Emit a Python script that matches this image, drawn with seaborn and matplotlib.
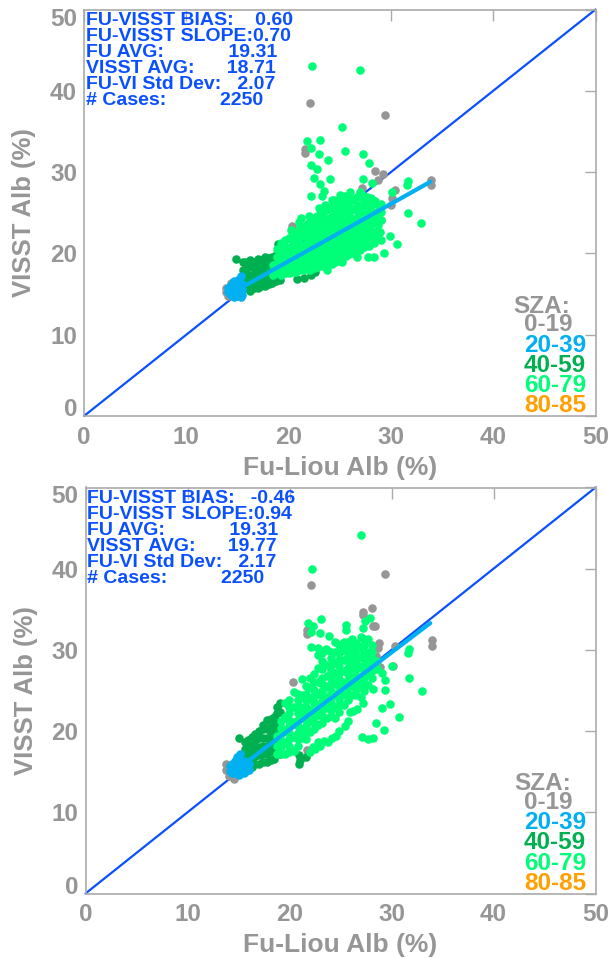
import matplotlib
matplotlib.use("Agg")
import matplotlib.pyplot as plt
from matplotlib.transforms import ScaledTranslation
import seaborn as sns

# =============================================
# DATA
# =============================================
SZA_LABELS = ['0-19', '20-39', '40-59', '60-79', '80-85']
SZA_COLORS = ['#969696', '#00b0f0', '#00b050', '#00ff78', '#ffa000']
TICKS = [0, 10, 20, 30, 40, 50]
DIAG = [0, 50]

# top panel
top_stats = ['FU-VISST BIAS:    0.60', 'FU-VISST SLOPE:0.70', 'FU AVG:            19.31',
             'VISST AVG:      18.71', 'FU-VI Std Dev:   2.07', '# Cases:          2250']
top_fit_x = [15.7, 33.85]
top_fit_y = [16.0, 28.8]
top_gray_x = [22.1, 29.4, 21.65, 21.65, 28.4, 29.2, 28.7, 27.2, 30.4, 30.1, 30.0, 27.75, 29.0, 20.3, 33.9, 33.9,
              13.9, 13.9, 14.1, 14.4]
top_gray_y = [38.5, 37.0, 32.9, 32.4, 30.1, 29.8, 29.0, 28.1, 27.8, 26.8, 26.0, 26.7, 24.1, 23.4, 29.0, 28.4,
              15.2, 15.8, 14.7, 16.3]
top_blue_x = [14.4, 14.4, 14.4, 15.0, 15.0, 15.0, 15.4, 15.4, 15.4, 14.7, 15.2, 15.3,
              14.1, 14.1, 14.7, 14.7, 14.7, 15.3, 15.3, 14.9]
top_blue_y = [14.9, 15.5, 16.1, 14.8, 15.4, 16.0, 14.9, 15.5, 16.2, 16.6, 16.9, 17.2,
              15.2, 15.8, 14.6, 15.2, 15.8, 14.6, 15.8, 16.4]
top_dark_x = [14.9, 15.5, 15.5, 15.5, 15.5, 16.2, 16.2, 16.2, 16.2, 16.2, 17.0, 17.0, 17.0, 17.0, 17.0,
              17.7, 17.7, 17.7, 17.7, 17.7, 18.4, 18.4, 18.4, 18.4, 18.95, 19.2, 20.8, 21.5, 22.2, 22.6]
top_dark_y = [19.3, 15.6, 16.8, 18.0, 19.0, 15.4, 16.4, 17.4, 18.4, 19.2, 15.7, 16.7, 17.7, 18.7, 19.3,
              16.0, 17.0, 18.0, 19.0, 19.5, 16.4, 17.4, 18.4, 19.6, 21.1, 16.7, 16.9, 17.0, 17.4, 17.7]
top_dark_cols = [15.85, 16.6, 17.35, 18.05, 18.8]
top_dark_vals = [[15.7, 16.5, 17.3, 18.1, 18.9], [15.8, 16.6, 17.4, 18.2, 19.0], [16.0, 16.8, 17.6, 18.4, 19.2],
                 [16.2, 17.0, 17.8, 18.6, 19.4], [16.6, 17.4, 18.2, 19.0, 19.8]]
top_green_x = [22.24, 27.0, 25.2, 21.8, 23.1, 22.2, 25.5, 27.3, 22.96, 23.9, 27.9, 22.15, 22.8, 22.5, 24.0, 27.3,
               28.15, 23.1, 23.5, 22.15, 23.3, 31.7, 31.6, 30.1, 27.0, 31.7, 32.95, 30.6, 29.3, 29.9, 29.05, 28.3,
               27.8, 28.35, 21.2, 25.4, 24.2, 23.6,
               18.5, 18.5, 19.3, 19.3, 19.3, 19.3, 19.3, 20.0, 20.0, 20.0, 20.0, 20.0,
               20.7, 20.7, 20.7, 20.7, 20.7, 20.7, 21.4, 21.4, 21.4, 21.4, 21.4, 21.4,
               22.1, 22.1, 22.1, 22.1, 22.1, 22.1, 22.1, 22.8, 22.8, 22.8, 22.8, 22.8, 22.8, 22.8,
               23.5, 23.5, 23.5, 23.5, 23.5, 23.5, 23.5, 23.5, 24.2, 24.2, 24.2, 24.2, 24.2, 24.2, 24.2, 24.2,
               24.9, 24.9, 24.9, 24.9, 24.9, 24.9, 24.9, 24.9, 25.6, 25.6, 25.6, 25.6, 25.6, 25.6, 25.6,
               26.3, 26.3, 26.3, 26.3, 26.3, 26.3, 26.3, 27.0, 27.0, 27.0, 27.0, 27.0, 27.0, 27.0,
               27.7, 27.7, 27.7, 27.7, 27.7, 27.7, 28.4, 28.4, 28.4, 28.4, 29.0, 29.0, 29.0,
               28.9, 28.5, 27.9, 26.7, 25.2, 23.8, 20.2, 21.0, 22.0, 23.0, 24.4, 25.0, 26.0]
top_green_y = [43.1, 42.6, 35.5, 33.8, 33.9, 33.0, 32.6, 32.2, 32.2, 31.5, 31.1, 30.9, 30.4, 29.3, 29.1, 29.1,
               28.6, 28.5, 27.7, 27.0, 27.1, 28.9, 28.4, 27.5, 27.5, 25.0, 23.7, 21.1, 20.0, 22.2, 21.7, 21.3,
               19.5, 19.5, 24.3, 27.0, 26.6, 26.0,
               17.4, 18.6, 17.3, 18.2, 19.1, 20.1, 21.3, 17.6, 18.6, 19.6, 20.7, 21.9,
               17.7, 18.6, 19.6, 20.6, 21.6, 22.6, 17.9, 18.9, 19.9, 21.0, 22.1, 23.2,
               18.0, 18.9, 19.9, 20.9, 21.9, 22.9, 23.9, 18.3, 19.3, 20.3, 21.3, 22.3, 23.4, 24.6,
               18.5, 19.3, 20.2, 21.1, 22.0, 23.0, 24.0, 25.1, 18.7, 19.6, 20.6, 21.6, 22.6, 23.6, 24.6, 25.7,
               19.1, 20.0, 21.0, 22.0, 23.0, 24.0, 25.0, 26.1, 19.7, 20.7, 21.8, 22.9, 24.0, 25.1, 26.4,
               20.1, 21.1, 22.1, 23.1, 24.2, 25.4, 26.7, 20.4, 21.4, 22.4, 23.4, 24.5, 25.7, 26.9,
               21.1, 22.2, 23.3, 24.4, 25.6, 26.9, 22.6, 23.7, 25.0, 26.4, 24.1, 25.1, 26.1,
               22.6, 21.9, 20.9, 19.6, 18.9, 17.9, 22.9, 23.9, 24.6, 25.6, 26.6, 27.2, 27.5]
# the dense part of the cloud, one x with its y values per column
top_green_cols = [18.9, 19.65, 20.35, 21.05, 21.75, 22.45, 23.15, 23.85, 24.55, 25.25, 25.95, 26.65, 27.35, 28.05, 28.7]
top_green_vals = [[17.8, 18.7, 19.6, 20.5],
                  [17.6, 18.4, 19.2, 20.0, 20.8, 21.6],
                  [17.7, 18.5, 19.3, 20.1, 20.9, 21.7, 22.3],
                  [17.9, 18.7, 19.5, 20.3, 21.1, 21.9, 22.6, 23.0],
                  [18.1, 18.9, 19.7, 20.5, 21.3, 22.1, 22.9, 23.6],
                  [18.2, 19.0, 19.8, 20.6, 21.4, 22.2, 23.0, 23.8, 24.4],
                  [18.4, 19.2, 20.0, 20.8, 21.6, 22.4, 23.2, 24.0, 24.9],
                  [18.6, 19.4, 20.2, 21.0, 21.8, 22.6, 23.4, 24.2, 25.4],
                  [19.0, 19.8, 20.6, 21.4, 22.2, 23.0, 23.8, 24.6, 25.4, 26.0],
                  [19.3, 20.1, 20.9, 21.7, 22.5, 23.3, 24.1, 24.9, 25.7, 26.4],
                  [19.9, 20.7, 21.5, 22.3, 23.1, 23.9, 24.7, 25.5, 26.3, 26.7],
                  [20.4, 21.2, 22.0, 22.8, 23.6, 24.4, 25.2, 26.0, 26.9],
                  [20.8, 21.6, 22.4, 23.2, 24.0, 24.8, 25.6, 26.4, 27.0],
                  [22.0, 22.8, 23.6, 24.4, 25.2, 26.0, 26.8],
                  [23.5, 24.3, 25.1, 25.9]]

# bottom panel
bot_stats = ['FU-VISST BIAS:   -0.46', 'FU-VISST SLOPE:0.94', 'FU AVG:            19.31',
             'VISST AVG:      19.77', 'FU-VI Std Dev:   2.17', '# Cases:          2250']
bot_fit_x = [15.6, 33.8]
bot_fit_y = [16.0, 33.3]
bot_gray_x = [22.1, 29.4, 28.05, 27.25, 27.25, 21.7, 21.7, 28.2, 28.4, 28.8, 28.7, 30.3, 27.7, 28.5, 28.9, 30.1,
              20.3, 34.0, 34.0, 21.7, 13.8, 13.8, 14.1, 14.6]
bot_gray_y = [38.0, 39.3, 35.15, 34.7, 34.3, 32.45, 32.0, 32.9, 32.9, 30.8, 30.2, 30.5, 29.2, 29.2, 27.9, 28.0,
              26.0, 31.2, 30.5, 17.7, 15.2, 15.9, 14.5, 14.1]
bot_blue_x = [14.4, 14.4, 14.4, 15.0, 15.0, 15.0, 15.5, 15.5, 15.5, 16.0, 16.0, 14.9, 15.1,
              14.2, 14.2, 14.7, 14.7, 14.7, 15.25, 15.25, 15.75, 15.75]
bot_blue_y = [14.8, 15.4, 16.0, 14.6, 15.3, 16.1, 14.9, 15.5, 16.3, 15.2, 15.9, 16.8, 17.2,
              15.1, 15.7, 14.9, 15.6, 16.3, 15.0, 15.9, 15.1, 16.2]
bot_dark_x = [15.0, 15.6, 15.6, 15.6, 15.6, 16.3, 16.3, 16.3, 16.3, 16.3, 17.0, 17.0, 17.0, 17.0, 17.0,
              17.8, 17.8, 17.8, 17.8, 17.8, 17.8, 18.5, 18.5, 18.5, 18.5, 18.5, 18.5, 19.1, 19.1, 19.1, 19.1,
              20.9, 20.9, 21.6, 21.0]
bot_dark_y = [19.1, 15.8, 16.8, 17.8, 18.7, 15.6, 16.6, 17.6, 18.6, 19.3, 15.9, 17.0, 18.1, 19.2, 20.0,
              16.2, 17.2, 18.2, 19.2, 20.3, 21.4, 16.6, 17.6, 18.7, 19.7, 20.7, 21.7, 17.2, 20.5, 22.3, 23.4,
              16.0, 17.1, 16.8, 16.5]
bot_dark_cols = [15.95, 16.65, 17.4, 18.15, 18.8]
bot_dark_vals = [[16.0, 17.0, 18.0, 18.9], [15.9, 16.9, 17.9, 18.9, 19.6], [16.2, 17.2, 18.2, 19.2, 20.2, 20.8],
                 [16.5, 17.5, 18.5, 19.5, 20.5, 21.5], [17.2, 18.2, 19.2, 20.2, 21.2, 22.2, 23.0]]
bot_green_x = [27.05, 22.25, 23.1, 21.85, 22.35, 22.15, 23.0, 23.9, 25.55, 25.55, 27.4, 27.9, 27.2, 22.1, 22.8, 23.6,
               31.75, 31.65, 30.05, 31.75, 33.0, 29.35, 29.85, 29.1, 30.7, 28.45, 29.3, 28.2, 27.7, 27.15,
               18.75, 18.75, 18.75, 19.55, 19.55, 19.55, 19.55, 19.55, 20.4, 20.4, 20.4, 20.4, 20.4,
               21.2, 21.2, 21.2, 21.2, 21.2, 21.2, 22.0, 22.0, 22.0, 22.0, 22.0, 22.0,
               22.8, 22.8, 22.8, 22.8, 22.8, 22.8, 22.8, 23.65, 23.65, 23.65, 23.65, 23.65, 23.65, 23.65,
               24.45, 24.45, 24.45, 24.45, 24.45, 24.45, 24.45, 24.45, 25.3, 25.3, 25.3, 25.3, 25.3, 25.3, 25.3,
               26.1, 26.1, 26.1, 26.1, 26.1, 26.1, 26.1, 26.1, 27.0, 27.0, 27.0, 27.0, 27.0, 27.0, 27.0,
               27.7, 27.7, 27.7, 27.7, 27.7, 28.55, 28.55, 22.0, 22.5, 23.0, 23.8, 24.6, 25.45, 25.9, 26.6, 27.2,
               28.2, 29.35, 29.1, 22.3, 22.8, 23.4, 24.2, 24.9, 25.7, 26.2]
bot_green_y = [44.2, 40.0, 33.85, 33.35, 32.9, 32.25, 32.1, 31.75, 33.1, 32.5, 33.5, 33.9, 32.65, 30.4, 30.2, 30.1,
               30.1, 29.6, 28.05, 26.5, 25.0, 25.1, 23.3, 22.9, 21.7, 21.0, 20.1, 19.1, 19.0, 19.3,
               17.2, 18.2, 19.4, 17.2, 18.6, 20.1, 21.7, 23.4, 17.5, 19.3, 21.1, 23.0, 24.8,
               19.1, 20.3, 21.6, 23.0, 24.5, 26.4, 19.9, 21.2, 22.6, 24.0, 25.4, 26.5,
               20.7, 22.0, 23.3, 24.6, 26.0, 27.8, 29.4, 21.6, 22.9, 24.2, 25.5, 26.8, 28.2, 30.0,
               21.6, 23.0, 24.4, 25.8, 27.2, 28.4, 29.8, 31.0, 23.2, 24.6, 26.0, 27.4, 28.7, 30.0, 31.0,
               24.4, 25.5, 26.6, 27.6, 28.6, 29.6, 30.5, 31.4, 24.2, 25.5, 26.7, 27.9, 29.1, 30.3, 31.6,
               25.7, 27.1, 28.4, 29.8, 31.4, 27.7, 28.6, 17.4, 17.8, 18.2, 18.6, 19.4, 20.6, 22.3, 22.7, 23.5,
               25.2, 26.3, 27.2, 18.0, 18.6, 18.8, 19.2, 20.0, 21.3, 22.5]
bot_green_cols = [19.15, 19.95, 20.8, 21.6, 22.4, 23.2, 24.05, 24.9, 25.7, 26.55, 27.35, 28.1]
bot_green_vals = [[17.2, 18.0, 18.8, 19.6, 20.4, 21.2],
                  [17.4, 18.2, 19.0, 19.8, 20.6, 21.4, 22.2, 23.0, 23.8],
                  [18.2, 19.0, 19.8, 20.6, 21.4, 22.2, 23.0, 23.8, 24.6],
                  [19.0, 19.8, 20.6, 21.4, 22.2, 23.0, 23.8, 24.6, 25.6],
                  [20.3, 21.1, 21.9, 22.7, 23.5, 24.3, 25.1, 26.0, 27.0],
                  [21.0, 21.8, 22.6, 23.4, 24.2, 25.0, 25.8, 26.6, 27.6, 28.6, 29.6],
                  [21.8, 22.6, 23.4, 24.2, 25.0, 25.8, 26.6, 27.4, 28.2, 29.0, 29.8],
                  [22.4, 23.2, 24.0, 24.8, 25.6, 26.4, 27.2, 28.0, 28.8, 29.6, 30.6],
                  [23.8, 24.6, 25.4, 26.2, 27.0, 27.8, 28.6, 29.4, 30.2, 31.0],
                  [24.4, 25.2, 26.0, 26.8, 27.6, 28.4, 29.2, 30.0, 30.8],
                  [25.0, 25.8, 26.6, 27.4, 28.2, 29.0, 29.8, 30.6, 31.4],
                  [26.6, 27.4, 28.2, 29.0, 29.8, 30.6]]


# =============================================
# HELPERS
# =============================================
def add_columns(xs, ys, cols, vals):
    out_x = list(xs)
    out_y = list(ys)
    for c, v in zip(cols, vals):
        out_x += [c] * len(v)
        out_y += v
    return out_x, out_y


def draw_panel(ax, stats, fit_x, fit_y, gray, blue, dark, green):
    sns.lineplot(x=DIAG, y=DIAG, color='#0a50ff', linewidth=1.6, ax=ax, zorder=2, clip_on=False)
    for (px, py), color, z in zip([gray, dark, green, blue],
                                  [SZA_COLORS[0], SZA_COLORS[2], SZA_COLORS[3], SZA_COLORS[1]],
                                  [3, 4, 5, 6]):
        sns.scatterplot(x=px, y=py, color=color, s=38, linewidth=0, ax=ax, zorder=z)
    sns.lineplot(x=fit_x, y=fit_y, color=SZA_COLORS[1], linewidth=3.0, ax=ax, zorder=7)

    ax.set_xlim(0, 50)
    ax.set_ylim(0, 50)
    ax.set_xticks(TICKS)
    ax.set_yticks(TICKS)
    ax.tick_params(direction='in', length=8, width=1.0, color='#aaaaaa', labelcolor='#969696',
                   labelsize=17.5, top=True, right=True)
    ax.tick_params(axis='x', pad=7)
    ax.tick_params(axis='y', pad=5)
    # first and last y labels sit inside the axis range
    ylabs = ax.get_yticklabels()
    fig = ax.figure
    ylabs[0].set_transform(ylabs[0].get_transform() + ScaledTranslation(0, 9 / 100, fig.dpi_scale_trans))
    ylabs[-1].set_transform(ylabs[-1].get_transform() + ScaledTranslation(0, -7 / 100, fig.dpi_scale_trans))
    ax.set_xlabel('Fu-Liou Alb (%)', fontsize=19, color='#969696', fontweight='bold')
    ax.set_ylabel('VISST Alb (%)', fontsize=18.5, color='#969696', fontweight='bold')
    ax.xaxis.set_label_coords(0.5, -0.098)
    ax.yaxis.set_label_coords(-0.093, 0.5)
    for s in ax.spines.values():
        s.set_color('#aaaaaa')
        s.set_linewidth(1.2)
        s.set_visible(True)

    # stats block
    for i, line in enumerate(stats):
        ax.text(0.003, 0.974 - i * 0.0398, line, transform=ax.transAxes, color='#0a50ff',
                fontsize=14, fontweight='bold', va='center', ha='left', zorder=8)

    # SZA key
    ax.text(0.84, 0.2706, 'SZA:', transform=ax.transAxes, color='#969696', fontsize=17.5,
            fontweight='bold', va='center', ha='left', zorder=8)
    for i, (lab, col) in enumerate(zip(SZA_LABELS, SZA_COLORS)):
        ax.text(0.86, 0.2239 - i * 0.0497, lab, transform=ax.transAxes, color=col, fontsize=17.5,
                fontweight='bold', va='center', ha='left', zorder=8)


# =============================================
# MAIN
# =============================================
if __name__ == "__main__":
    sns.set_style('white')
    plt.rcParams['font.family'] = ['Liberation Sans', 'DejaVu Sans']
    plt.rcParams['font.weight'] = 'bold'

    W, H = 609, 958
    fig = plt.figure(figsize=(W / 100, H / 100), dpi=100)
    ax1 = fig.add_axes([84 / W, 1 - 416 / H, 511.5 / W, 406.5 / H])
    ax2 = fig.add_axes([85.5 / W, 1 - 893.5 / H, 510 / W, 406 / H])

    draw_panel(ax1, top_stats, top_fit_x, top_fit_y, (top_gray_x, top_gray_y), (top_blue_x, top_blue_y),
               add_columns(top_dark_x, top_dark_y, top_dark_cols, top_dark_vals),
               add_columns(top_green_x, top_green_y, top_green_cols, top_green_vals))
    draw_panel(ax2, bot_stats, bot_fit_x, bot_fit_y, (bot_gray_x, bot_gray_y), (bot_blue_x, bot_blue_y),
               add_columns(bot_dark_x, bot_dark_y, bot_dark_cols, bot_dark_vals),
               add_columns(bot_green_x, bot_green_y, bot_green_cols, bot_green_vals))

    fig.savefig('out.png', dpi=100)
    plt.close(fig)
